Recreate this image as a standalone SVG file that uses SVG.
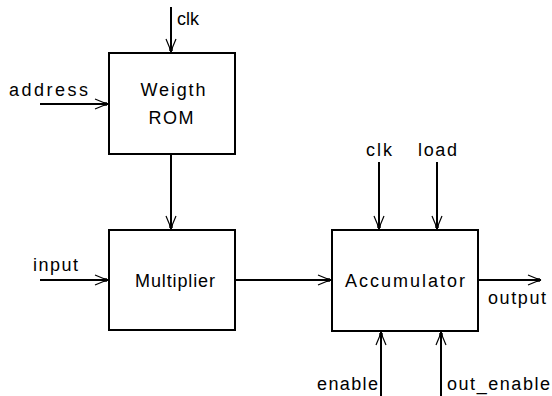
<svg xmlns="http://www.w3.org/2000/svg" width="552" height="396" viewBox="0 0 552 396">
  <style>
    .box { fill: #ffffff; stroke: #000000; stroke-width: 2; }
    .wire { fill: none; stroke: #000000; stroke-width: 2; }
    .lbl { font-family: "Liberation Sans", Arial, sans-serif; font-size: 18px; fill: #000000; }
    .mid { text-anchor: middle; }
  </style>
  <defs>
    <!-- open chevron with a small solid square at the tip -->
    <marker id="arrow" markerUnits="userSpaceOnUse" markerWidth="20" markerHeight="14"
            viewBox="-15 -7 16 14" refX="0" refY="0" orient="auto" overflow="visible">
      <path d="M-13,-5 L-1,0 L-13,5" fill="none" stroke="#000000" stroke-width="1.2"/>
      <rect x="-4.5" y="-1.75" width="3.5" height="3.5" fill="#000000"/>
    </marker>
  </defs>
  <rect width="552" height="396" fill="#ffffff"/>

  <g id="connectors">
    <line class="wire" x1="171" y1="7" x2="171" y2="52" marker-end="url(#arrow)"/>
    <line class="wire" x1="40" y1="104" x2="108" y2="104" marker-end="url(#arrow)"/>
    <line class="wire" x1="171" y1="155" x2="171" y2="229" marker-end="url(#arrow)"/>
    <line class="wire" x1="40" y1="280" x2="108" y2="280" marker-end="url(#arrow)"/>
    <line class="wire" x1="236" y1="280" x2="331" y2="280" marker-end="url(#arrow)"/>
    <line class="wire" x1="379" y1="162" x2="379" y2="229" marker-end="url(#arrow)"/>
    <line class="wire" x1="437" y1="162" x2="437" y2="229" marker-end="url(#arrow)"/>
    <line class="wire" x1="381" y1="396" x2="381" y2="332" marker-end="url(#arrow)"/>
    <line class="wire" x1="441" y1="396" x2="441" y2="332" marker-end="url(#arrow)"/>
    <line class="wire" x1="479" y1="280" x2="541" y2="280" marker-end="url(#arrow)"/>
  </g>

  <g id="rom">
    <rect class="box" x="109" y="53" width="126" height="101"/>
    <text class="lbl mid" x="173" y="96" textLength="65" lengthAdjust="spacing">Weigth</text>
    <text class="lbl mid" x="171" y="124" textLength="45" lengthAdjust="spacing">ROM</text>
  </g>

  <g id="multiplier">
    <rect class="box" x="109" y="230" width="126" height="100"/>
    <text class="lbl" x="135" y="287" textLength="80" lengthAdjust="spacing">Multiplier</text>
  </g>

  <g id="accumulator">
    <rect class="box" x="332" y="230" width="146" height="101"/>
    <text class="lbl" x="345" y="287" textLength="120" lengthAdjust="spacing">Accumulator</text>
  </g>

  <g id="signals">
    <text class="lbl" x="177" y="25">clk</text>
    <text class="lbl" x="9" y="96" textLength="79" lengthAdjust="spacing">address</text>
    <text class="lbl" x="33" y="271" textLength="45" lengthAdjust="spacing">input</text>
    <text class="lbl" x="366" y="156" textLength="26" lengthAdjust="spacing">clk</text>
    <text class="lbl" x="418" y="156" textLength="39" lengthAdjust="spacing">load</text>
    <text class="lbl" x="488" y="304" textLength="58" lengthAdjust="spacing">output</text>
    <text class="lbl" x="317" y="390" textLength="61" lengthAdjust="spacing">enable</text>
    <text class="lbl" x="447" y="390" textLength="103" lengthAdjust="spacing">out_enable</text>
  </g>
</svg>
